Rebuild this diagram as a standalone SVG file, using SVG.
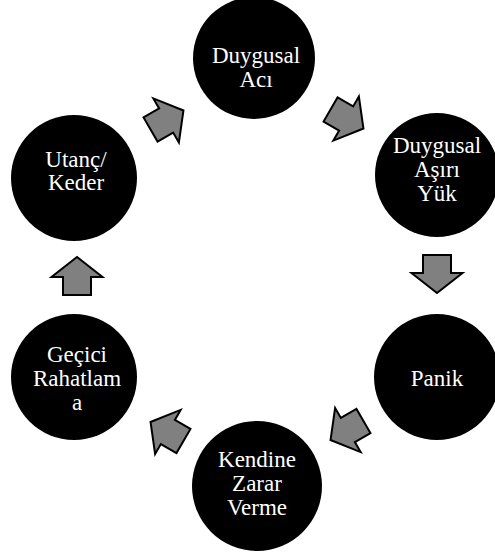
<svg xmlns="http://www.w3.org/2000/svg" width="495" height="554" viewBox="0 0 495 554">
<defs>
<style>
.node{fill:#000}
.lbl{font-family:'Times New Roman','Liberation Serif',serif;font-size:23px;fill:#fff;text-anchor:middle}
.arr{fill:#808080;stroke:#000;stroke-width:2;stroke-linejoin:miter}
</style>
<path id="arrow" d="M-19,-14 L-1,-14 L-1,-25.5 L19,0 L-1,25.5 L-1,14 L-19,14 Z"/>
</defs>
<rect width="495" height="554" fill="#fff"/>
<g id="connectors">
<use href="#arrow" class="arr" transform="translate(167,120) rotate(-30)"/>
<use href="#arrow" class="arr" transform="translate(347,119) rotate(30)"/>
<use href="#arrow" class="arr" transform="translate(437,274) rotate(90)"/>
<use href="#arrow" class="arr" transform="translate(347,430.5) rotate(150)"/>
<use href="#arrow" class="arr" transform="translate(167,431.5) rotate(210)"/>
<use href="#arrow" class="arr" transform="translate(77,276) rotate(-90)"/>
</g>
<g id="node-duygusal-aci">
<circle class="node" cx="254" cy="58" r="61"/>
<text class="lbl" x="256" y="63">Duygusal</text>
<text class="lbl" x="256" y="87">Acı</text>
</g>
<g id="node-duygusal-asiri-yuk">
<circle class="node" cx="437" cy="175" r="62"/>
<text class="lbl" x="437" y="153">Duygusal</text>
<text class="lbl" x="437" y="177">Aşırı</text>
<text class="lbl" x="437" y="201">Yük</text>
</g>
<g id="node-panik">
<circle class="node" cx="437" cy="377" r="63"/>
<text class="lbl" x="437" y="386">Panik</text>
</g>
<g id="node-kendine-zarar-verme">
<circle class="node" cx="257" cy="486" r="65"/>
<text class="lbl" x="257" y="467">Kendine</text>
<text class="lbl" x="257" y="491">Zarar</text>
<text class="lbl" x="257" y="515">Verme</text>
</g>
<g id="node-gecici-rahatlama">
<circle class="node" cx="74" cy="377" r="63"/>
<text class="lbl" x="77" y="362">Geçici</text>
<text class="lbl" x="77" y="386">Rahatlam</text>
<text class="lbl" x="77" y="410">a</text>
</g>
<g id="node-utanc-keder">
<circle class="node" cx="74" cy="178" r="63"/>
<text class="lbl" x="76" y="167">Utanç/</text>
<text class="lbl" x="76" y="190">Keder</text>
</g>
</svg>
